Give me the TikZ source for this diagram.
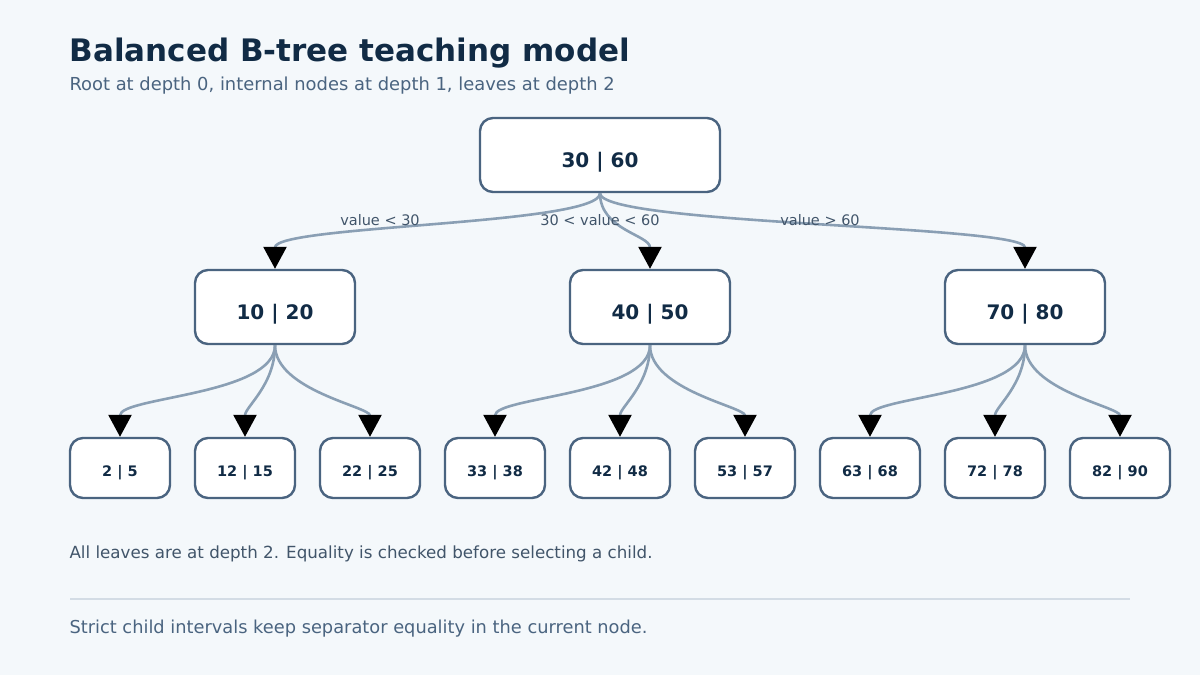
\documentclass[tikz,border=0pt]{standalone}
\usepackage{fontspec}
\setmainfont{DejaVu Sans}
\usetikzlibrary{arrows.meta,positioning}
\definecolor{bg}{HTML}{F4F8FB}
\definecolor{ink}{HTML}{112B45}
\definecolor{sub}{HTML}{4A6480}
\definecolor{edge}{HTML}{8A9FB4}
\definecolor{rule}{HTML}{D3DCE5}
\tikzset{
  keynode/.style={draw=sub, line width=2.4pt, fill=white, rounded corners=13pt,
    text=ink, font=\bfseries, inner sep=0pt, text depth=0pt},
  bigkey/.style={keynode, minimum width=160pt, minimum height=74pt, text height=24pt, font=\fontsize{20}{22}\selectfont\bfseries},
  leafkey/.style={keynode, minimum width=100pt, minimum height=60pt, text height=16pt, font=\fontsize{14.5}{16}\selectfont\bfseries},
  link/.style={draw=edge, line width=2.6pt, -{Triangle[width=23pt,length=22pt,fill=black,color=black]}},
  cond/.style={text=ink!80, font=\fontsize{14.5}{16}\selectfont},
}
\begin{document}
\begin{tikzpicture}[x=1pt,y=-1pt]
	\useasboundingbox[fill=bg] (0,0) rectangle (1200,675);
	
	% heading
	\node[anchor=west, text=ink, font=\fontsize{31}{34}\selectfont\bfseries] (title) at (66,53) {Balanced B-tree teaching model};
	\node[anchor=west, text=sub, font=\fontsize{17.9}{20}\selectfont] (subtitle) at (66,86) {Root at depth 0, internal nodes at depth 1, leaves at depth 2};
	
	% root and internal nodes
	\node[bigkey, minimum width=240pt] (root) at (600,155) {30 | 60};
	\node[bigkey] (left) at (275,307) {10 | 20};
	\node[bigkey] (mid) at (650,307) {40 | 50};
	\node[bigkey] (right) at (1025,307) {70 | 80};
	
	% leaves
	\foreach \name/\txt [count=\i from 0] in {l1/2 | 5, l2/12 | 15, l3/22 | 25, l4/33 | 38, l5/42 | 48, l6/53 | 57, l7/63 | 68, l8/72 | 78, l9/82 | 90}
		\node[leafkey] (\name) at (120+125*\i,468) {\txt};
	
	% root to internal
	\draw[link] (root.south) .. controls (600,225) and (275,225) .. (left.north);
	\draw[link] (root.south) .. controls (600,230) and (650,235) .. (mid.north);
	\draw[link] (root.south) .. controls (600,225) and (1025,225) .. (right.north);
	\node[cond] (c1) at (380,220) {value < 30};
	\node[cond] (c2) at (600,220) {30 < value < 60};
	\node[cond] (c3) at (820,220) {value > 60};
	
	% internal to leaves
	\foreach \p/\a/\b/\c in {left/l1/l2/l3, mid/l4/l5/l6, right/l7/l8/l9} {
		\draw[link] (\p.south) .. controls ([yshift=-50pt]\p.south) and ([yshift=40pt]\a.north) .. (\a.north);
		\draw[link] (\p.south) .. controls ([yshift=-40pt]\p.south) and ([yshift=30pt]\b.north) .. (\b.north);
		\draw[link] (\p.south) .. controls ([yshift=-45pt]\p.south) and ([yshift=30pt]\c.north) .. (\c.north);
	}
	
	% footer
	\node[anchor=west, text=ink!80, font=\fontsize{16.7}{19}\selectfont] (note) at (66,554) {All leaves are at depth 2. Equality is checked before selecting a child.};
	\coordinate (ra) at (70,599);
	\coordinate (rb) at (1130,599);
	\draw[rule, line width=1.5pt] (ra) -- (rb);
	\node[anchor=west, text=sub, font=\fontsize{17.8}{20}\selectfont] (foot) at (66,629) {Strict child intervals keep separator equality in the current node.};
\end{tikzpicture}
\end{document}
